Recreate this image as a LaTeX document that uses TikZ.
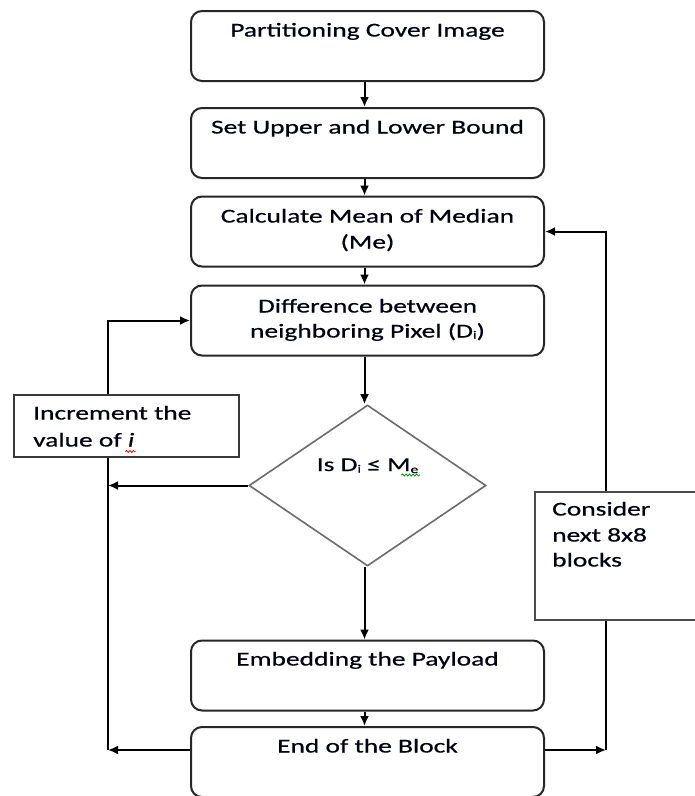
\documentclass[tikz,border=0pt]{standalone}
\usepackage{fontspec}
\setmainfont[FakeStretch=1.4,FakeBold=0.6]{Carlito}
\usetikzlibrary{arrows.meta,shapes.geometric,decorations.pathmorphing}
\begin{document}
\begin{tikzpicture}[x=1pt,y=-1pt,
  txt/.style={inner sep=0pt,anchor=base,text=black!92!blue,font=\fontsize{19.6}{25}\selectfont},
  ltxt/.style={txt,anchor=base west},
  proc/.style={draw=black!85,line width=2pt,rounded corners=11pt,minimum width=353pt,minimum height=70pt,inner sep=0pt,fill=white},
  side/.style={draw=black!78,line width=2pt,fill=white,inner sep=0pt},
  conn/.style={line width=2pt,draw=black,-{Latex[length=10pt,width=9pt]}},
  squig/.style={decorate,decoration={snake,amplitude=1pt,segment length=3.5pt},line width=0.8pt}
]
\clip (0,0) rectangle (695,796);
\fill[white] (0,0) rectangle (695,796);

% process boxes
\node[proc] (b1) at (367.5,46) {};
\node[proc] (b2) at (367.5,143) {};
\node[proc] (b3) at (367.5,231.5) {};
\node[proc] (b4) at (367.5,320.5) {};
\node[proc] (b5) at (367.5,675.5) {};
\node[proc] (b6) at (367.5,762) {};

\node[txt] (t1) at (367.5,36.5) {Partitioning Cover Image};
\node[txt] (t2) at (367.5,133.5) {Set Upper and Lower Bound};
\node[txt] (t3a) at (367.5,222.5) {Calculate Mean of Median};
\node[txt] (t3b) at (367.5,248.5) {(Me)};
\node[txt] (t4a) at (367.5,312.5) {Difference between};
\node[txt] (t4b) at (367.5,337.5) {neighboring Pixel (D\raisebox{-1pt}{\fontsize{11}{11}\selectfont i})};
\node[txt] (t5) at (367.5,665.5) {Embedding the Payload};
\node[txt] (t6) at (367.5,752.5) {End of the Block};

% decision
\node[draw=black!58,line width=1.6pt,diamond,minimum width=237pt,minimum height=161pt,inner sep=0pt,fill=white] (dia) at (367.5,485.5) {};
\node[txt] (td) at (367.5,471) {Is D\raisebox{-1.5pt}{\fontsize{11}{11}\selectfont i} ≤ M\raisebox{-2pt}{\fontsize{11}{11}\selectfont e}};
\draw[squig,green!60!black] ([xshift=-17pt,yshift=-4pt]td.base east) -- ([xshift=2pt,yshift=-4pt]td.base east);

% loop coordinates
\coordinate (L1) at (108,750);
\coordinate (R1) at (606,750);

% main flow (arrows sit slightly left of the box centres)
\draw[conn] ([xshift=-3pt]b1.south) -- ([xshift=-3pt]b2.north);
\draw[conn] ([xshift=-3pt]b2.south) -- ([xshift=-3pt]b3.north);
\draw[conn] ([xshift=-3pt]b3.south) -- ([xshift=-3pt]b4.north);
\draw[conn] ([xshift=-3pt]b4.south) -- ([xshift=-3pt]dia.north);
\draw[conn] ([xshift=-3pt]dia.south) -- ([xshift=-3pt]b5.north);
\draw[conn] ([xshift=-3pt]b5.south) -- ([xshift=-3pt]b6.north);

% left loop
\draw[conn] ([yshift=12pt]b6.west) -- (L1);
\draw[conn] (dia.west) -- (dia.west -| L1);
\draw[conn] (L1) |- (b4.west);

% right loop
\draw[conn] ([yshift=12pt]b6.east) -- (R1);
\draw[conn] (R1) |- (b3.east);

% side boxes
\node[side,minimum width=225pt,minimum height=62pt] (inc) at (126.5,426) {};
\node[ltxt] (inca) at (33,419.5) {Increment the};
\node[ltxt] (incb) at (33,446.5) {value of \textit{i}};
\draw[squig,red] ([xshift=-9pt,yshift=-5pt]incb.base east) -- ([xshift=1pt,yshift=-5pt]incb.base east);

\node[side,draw=black!70,minimum width=170pt,minimum height=128pt] (con) at (620,556) {};
\node[ltxt] (cona) at (552,515.5) {Consider};
\node[ltxt] (conb) at (552,541.5) {next 8x8};
\node[ltxt] (conc) at (552,566.5) {blocks};
\end{tikzpicture}
\end{document}
